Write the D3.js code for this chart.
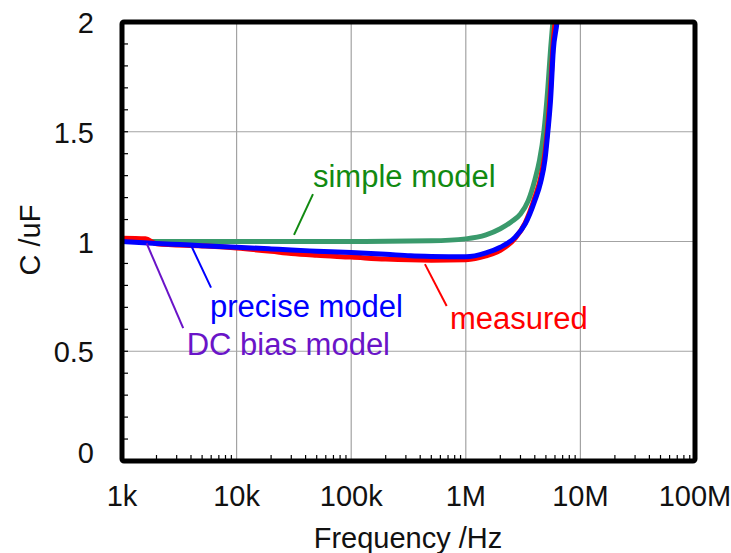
<!DOCTYPE html>
<html>
<head>
<meta charset="utf-8">
<script src="https://cdn.jsdelivr.net/npm/d3@7"></script>
<style>
  body { margin: 0; background: #fff; }
  text { font-family: "Liberation Sans", Arial, sans-serif; }
</style>
</head>
<body>
<svg id="chart" width="731" height="553"></svg>
<script>
// axis ticks
const xTicks = [1e3, 1e4, 1e5, 1e6, 1e7, 1e8];
const xTickLabels = ["1k", "10k", "100k", "1M", "10M", "100M"];
const yTicks = [0, 0.5, 1, 1.5, 2];
const yTickLabels = ["0", "0.5", "1", "1.5", "2"];

// series (frequency in Hz, capacitance in uF)
const simpleF = [1e3, 1e4, 1e5, 5e5, 1e6, 1.5e6, 2e6, 2.5e6, 3e6, 3.5e6, 4e6, 4.4e6, 4.8e6, 5.2e6, 5.5e6, 5.75e6, 6e6];
const simpleC = [1.0, 1.0, 1.0, 1.003, 1.012, 1.03, 1.058, 1.09, 1.125, 1.185, 1.28, 1.37, 1.5, 1.7, 1.88, 2.0, 2.12];

const measuredF = [1e3, 1.6e3, 2e3, 5e3, 1e4, 2e4, 3e4, 5e4, 1e5, 2e5, 5e5, 1e6, 1.5e6, 2e6, 2.7e6, 3.3e6, 4e6, 4.5e6, 4.9e6, 5.2e6, 5.5e6, 5.8e6, 6.2e6];
const measuredC = [1.015, 1.012, 0.99, 0.98, 0.97, 0.955, 0.945, 0.937, 0.929, 0.92, 0.915, 0.917, 0.934, 0.96, 1.015, 1.085, 1.2, 1.29, 1.4, 1.53, 1.7, 1.91, 2.05];

const preciseF = [1e3, 2e3, 3.2e3, 5e3, 1e4, 2e4, 3e4, 5e4, 1e5, 2e5, 3.3e5, 5e5, 1e6, 1.5e6, 2e6, 2.7e6, 3.3e6, 4e6, 4.5e6, 4.9e6, 5.2e6, 5.5e6, 5.8e6, 6.25e6, 6.5e6];
const preciseC = [1.0, 0.991, 0.986, 0.981, 0.974, 0.966, 0.961, 0.956, 0.95, 0.942, 0.935, 0.932, 0.93, 0.948, 0.974, 1.02, 1.08, 1.186, 1.27, 1.37, 1.5, 1.65, 1.87, 2.0, 2.1];

// labels with leader lines (data coordinates)
const noteText = ["simple model", "precise model", "DC bias model", "measured"];
const noteColor = ["#118a11", "#0000ff", "#6a14c8", "#ff0000"];
const noteAt = [[4.64e4, 1.25], [5.86e3, 0.655], [3.67e3, 0.483], [7.28e5, 0.601]];
const leaderFrom = [[4.64e4, 1.216], [4.06e3, 0.976], [1.64e3, 0.992], [4.4e5, 0.897]];
const leaderTo = [[3.17e4, 1.03], [5.98e3, 0.79], [3.42e3, 0.605], [6.81e5, 0.706]];

const svg = d3.select("#chart");
const plotL = 122, plotR = 695, plotT = 22, plotB = 461;

const x = d3.scaleLog().domain([1e3, 1e8]).range([plotL, plotR]);
const y = d3.scaleLinear().domain([0, 2]).range([plotB, plotT]);

svg.append("rect").attr("width", 731).attr("height", 553).attr("fill", "#fff");

svg.append("clipPath").attr("id", "plotclip")
  .append("rect")
  .attr("x", plotL).attr("y", plotT)
  .attr("width", plotR - plotL).attr("height", plotB - plotT);

// grid
const grid = svg.append("g");
grid.selectAll(".gx").data(xTicks.slice(1, -1)).enter().append("line")
  .attr("x1", d => x(d)).attr("x2", d => x(d))
  .attr("y1", plotT).attr("y2", plotB)
  .attr("stroke", "#a3a3a3").attr("stroke-width", 1.2);
grid.selectAll(".gy").data(yTicks.slice(1, -1)).enter().append("line")
  .attr("x1", plotL).attr("x2", plotR)
  .attr("y1", d => y(d)).attr("y2", d => y(d))
  .attr("stroke", "#a3a3a3").attr("stroke-width", 1.2);

// minor ticks
const minorX = [];
for (let dec = 1e3; dec < 1e8; dec *= 10) {
  for (let m = 2; m <= 9; m++) minorX.push(dec * m);
}
svg.append("g").selectAll("line").data(minorX).enter().append("line")
  .attr("x1", d => x(d)).attr("x2", d => x(d))
  .attr("y1", plotB).attr("y2", plotB - 6)
  .attr("stroke", "#000").attr("stroke-width", 1.2);

const minorY = d3.range(1, 20).map(i => i / 10);
svg.append("g").selectAll("line").data(minorY).enter().append("line")
  .attr("x1", plotL).attr("x2", plotL + 6)
  .attr("y1", d => y(d)).attr("y2", d => y(d))
  .attr("stroke", "#000").attr("stroke-width", 1.2);

// curves
const line = d3.line()
  .x(d => x(d[0]))
  .y(d => y(d[1]))
  .curve(d3.curveMonotoneX);

const curves = svg.append("g").attr("clip-path", "url(#plotclip)");
const series = [
  { f: simpleF, c: simpleC, color: "#3a9a6c", w: 5 },
  { f: measuredF, c: measuredC, color: "#ff0000", w: 5 },
  { f: preciseF, c: preciseC, color: "#0000ff", w: 5 }
];
series.forEach(s => {
  curves.append("path")
    .datum(d3.zip(s.f, s.c))
    .attr("d", line)
    .attr("fill", "none")
    .attr("stroke", s.color)
    .attr("stroke-width", s.w)
    .attr("stroke-linejoin", "round");
});

// frame
svg.append("rect")
  .attr("x", plotL).attr("y", plotT)
  .attr("width", plotR - plotL).attr("height", plotB - plotT)
  .attr("rx", 2)
  .attr("fill", "none")
  .attr("stroke", "#000")
  .attr("stroke-width", 5);

// tick labels
svg.append("g").selectAll("text").data(xTicks).enter().append("text")
  .attr("x", d => x(d))
  .attr("y", 506)
  .attr("text-anchor", "middle")
  .attr("font-size", 29)
  .attr("fill", "#111")
  .text((d, i) => xTickLabels[i]);

svg.append("g").selectAll("text").data(yTicks).enter().append("text")
  .attr("x", 94)
  .attr("y", d => Math.min(y(d) + 11, 463))
  .attr("text-anchor", "end")
  .attr("font-size", 29)
  .attr("fill", "#111")
  .text((d, i) => yTickLabels[i]);

// axis titles
svg.append("text")
  .attr("x", 408).attr("y", 548)
  .attr("text-anchor", "middle")
  .attr("font-size", 29)
  .attr("fill", "#111")
  .text("Frequency /Hz");

svg.append("text")
  .attr("transform", "translate(40,240) rotate(-90)")
  .attr("text-anchor", "middle")
  .attr("font-size", 29)
  .attr("fill", "#111")
  .text("C /uF");

// annotations
const notes = svg.append("g");
noteText.forEach((t, i) => {
  notes.append("line")
    .attr("x1", x(leaderFrom[i][0])).attr("y1", y(leaderFrom[i][1]))
    .attr("x2", x(leaderTo[i][0])).attr("y2", y(leaderTo[i][1]))
    .attr("stroke", noteColor[i])
    .attr("stroke-width", 2);
  notes.append("text")
    .attr("x", x(noteAt[i][0]))
    .attr("y", y(noteAt[i][1]))
    .attr("font-size", 31)
    .attr("fill", noteColor[i])
    .text(t);
});
</script>
</body>
</html>
